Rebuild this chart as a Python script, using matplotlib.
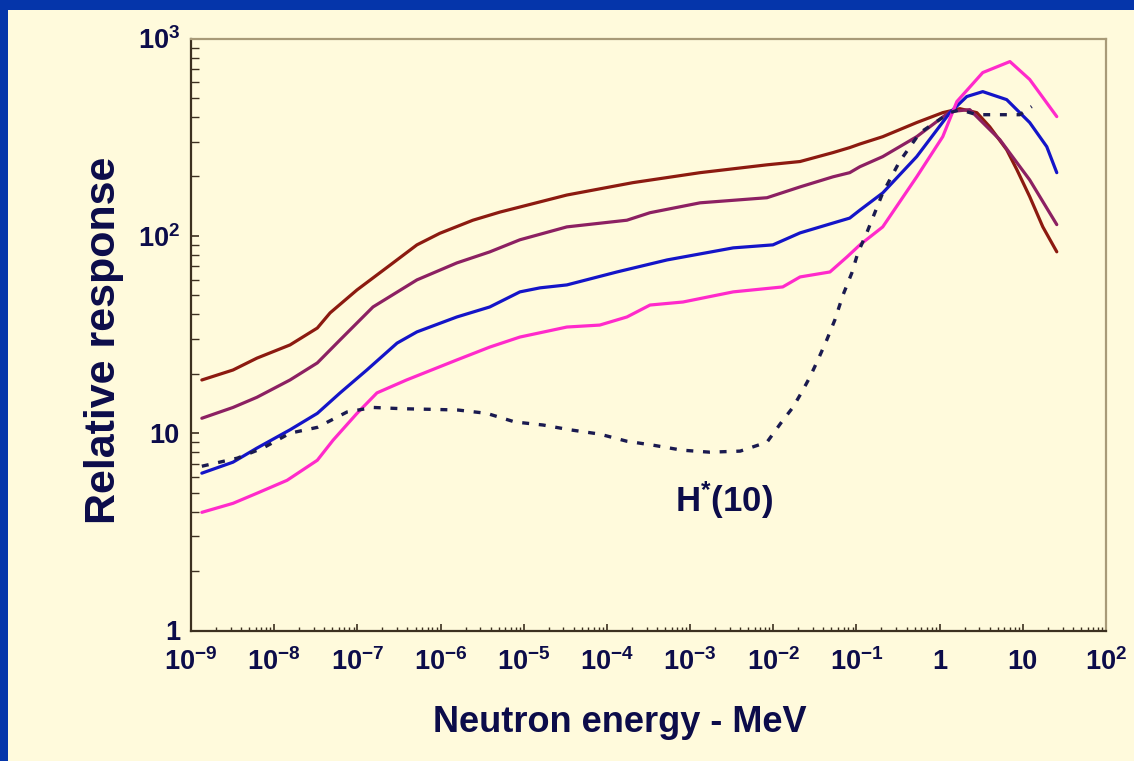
import matplotlib
matplotlib.use("Agg")
import matplotlib.pyplot as plt
from matplotlib.patches import Rectangle

plt.rcParams['font.family'] = ['Liberation Sans', 'DejaVu Sans']
plt.rcParams['mathtext.fontset'] = 'custom'
plt.rcParams['mathtext.rm'] = 'Liberation Sans:bold'
plt.rcParams['mathtext.bf'] = 'Liberation Sans:bold'
plt.rcParams['mathtext.it'] = 'Liberation Sans:bold'
plt.rcParams['lines.scale_dashes'] = False

# ---------------- data (energy in MeV, relative response) ----------------
e_darkred = [1.35e-9, 3.2e-9, 6.2e-9, 1.55e-8, 3.3e-8, 4.7e-8, 9.9e-8, 2.5e-7, 5.2e-7,
             9.8e-7, 2.45e-6, 5.2e-6, 9.0e-6, 3.3e-5, 2.05e-4, 1.32e-3, 8.4e-3, 0.021,
             0.052, 0.083, 0.11, 0.207, 0.53, 1.09, 1.75, 2.8, 4.0, 6.4, 8.5, 12.1, 17.4, 25.6]
r_darkred = [18.6, 20.9, 24.0, 28.0, 34.1, 40.7, 53.2, 71.3, 90.0,
             103, 120, 132, 140, 161, 186, 209, 229, 238,
             264, 280, 292, 318, 375, 421, 441, 421, 357, 273, 216, 158, 111, 83]

e_purple = [1.35e-9, 3.2e-9, 6.2e-9, 1.55e-8, 3.3e-8, 6.2e-8, 1.54e-7, 5.2e-7, 1.57e-6,
            3.9e-6, 9.0e-6, 3.3e-5, 1.74e-4, 3.3e-4, 1.32e-3, 8.4e-3, 0.021, 0.052,
            0.083, 0.11, 0.207, 0.53, 1.33, 2.3, 5.3, 12.1, 25.6]
r_purple = [11.9, 13.5, 15.2, 18.6, 22.7, 29.7, 43.6, 59.8, 72.9,
            82.9, 95.5, 111, 120, 131, 147, 156, 177, 199,
            209, 224, 252, 318, 426, 436, 307, 192, 114]

e_blue = [1.35e-9, 3.2e-9, 6.2e-9, 1.55e-8, 3.3e-8, 6.2e-8, 1.30e-7, 3.0e-7, 5.2e-7,
          1.57e-6, 3.9e-6, 9.0e-6, 1.57e-5, 3.3e-5, 1.32e-4, 5.3e-4, 3.3e-3, 9.9e-3,
          0.021, 0.052, 0.083, 0.11, 0.207, 0.53, 1.33, 2.12, 3.3, 6.4, 12.1, 19.4, 25.6]
r_blue = [6.27, 7.13, 8.40, 10.4, 12.6, 16.0, 20.9, 28.6, 32.6,
          38.8, 43.6, 52.0, 54.5, 56.4, 65.6, 75.5, 86.9, 90.0,
          103.5, 116, 123, 135, 165, 252, 421, 508, 538, 490, 375, 283, 209]

e_magenta = [1.35e-9, 3.2e-9, 6.2e-9, 1.43e-8, 3.3e-8, 5.1e-8, 9.9e-8, 1.72e-7, 3.9e-7,
             1.57e-6, 3.9e-6, 9.0e-6, 3.3e-5, 8.2e-5, 1.74e-4, 3.3e-4, 8.2e-4, 3.3e-3,
             0.013, 0.021, 0.048, 0.077, 0.11, 0.207, 0.53, 1.09, 1.61, 3.3, 7.0, 12.1, 25.6]
r_magenta = [3.97, 4.41, 4.96, 5.77, 7.29, 9.21, 12.6, 16.0, 18.6,
             23.5, 27.3, 30.7, 34.5, 35.3, 38.8, 44.6, 46.2, 52.0,
             55.1, 61.9, 65.6, 78.2, 90, 111, 199, 318, 479, 672, 764, 620, 402]

e_hstar = [1.35e-9, 3.6e-9, 7.3e-9, 1.55e-8, 3.3e-8, 7.5e-8, 1.54e-7, 3.5e-7, 8.1e-7,
           1.62e-6, 3.6e-6, 7.8e-6, 1.7e-5, 3.6e-5, 8.2e-5, 1.74e-4, 3.6e-4, 8.0e-4,
           1.73e-3, 4.0e-3, 8.4e-3, 0.013, 0.0172, 0.0221, 0.0275, 0.0344, 0.044, 0.055,
           0.069, 0.088, 0.104, 0.133, 0.207, 0.33, 0.58, 1.33, 1.75, 2.8, 5.3, 9.2, 12.8]
r_hstar = [6.8, 7.47, 8.40, 10.0, 10.7, 12.8, 13.5, 13.3, 13.2,
           13.1, 12.6, 11.4, 11.0, 10.4, 9.89, 9.10, 8.69, 8.20,
           8.01, 8.11, 9.00, 11.6, 13.5, 16.2, 19.2, 23.5, 29.7, 37.5,
           50.2, 64.9, 82, 103.5, 165, 238, 333, 421, 436, 411, 411, 411, 452]

x_ticks = [1e-9, 1e-8, 1e-7, 1e-6, 1e-5, 1e-4, 1e-3, 1e-2, 1e-1, 1, 10, 100]
x_ticklabels = [r'$\mathbf{10^{-9}}$', r'$\mathbf{10^{-8}}$', r'$\mathbf{10^{-7}}$',
                r'$\mathbf{10^{-6}}$', r'$\mathbf{10^{-5}}$', r'$\mathbf{10^{-4}}$',
                r'$\mathbf{10^{-3}}$', r'$\mathbf{10^{-2}}$', r'$\mathbf{10^{-1}}$',
                '1', '10', r'$\mathbf{10^{2}}$']
y_ticks = [1, 10, 100, 1000]
y_ticklabels = ['1', '10', r'$\mathbf{10^{2}}$', r'$\mathbf{10^{3}}$']

# ---------------- styling ----------------
W, H = 1134, 761
cream = '#FFFADC'
border = '#0535AA'
navy = '#0C0C4A'
spine_dark = '#3C3020'
spine_light = '#A89A78'

fig = plt.figure(figsize=(W / 100, H / 100), dpi=100)
fig.patch.set_facecolor(border)
fig.add_artist(Rectangle((8 / W, 0), 1 - 8 / W, (H - 9.5) / H, transform=fig.transFigure,
                         facecolor=cream, edgecolor='none', zorder=-10))

ax = fig.add_axes([191 / W, (H - 630.5) / H, (1106 - 191) / W, (630.5 - 38.5) / H])
ax.set_facecolor(cream)
ax.set_xscale('log')
ax.set_yscale('log')
ax.set_xlim(1e-9, 100)
ax.set_ylim(1, 1000)

lw = 2.3
ax.plot(e_darkred, r_darkred, color='#8C1A10', lw=lw, solid_capstyle='round')
ax.plot(e_purple, r_purple, color='#8C2062', lw=lw, solid_capstyle='round')
ax.plot(e_blue, r_blue, color='#1414C8', lw=lw, solid_capstyle='round')
ax.plot(e_magenta, r_magenta, color='#FF2ACB', lw=lw, solid_capstyle='round')
ax.plot(e_hstar, r_hstar, color='#1A1A50', lw=2.4, dashes=(5, 7))

ax.text(2.55e-3, 4.55, r'$\mathbf{H^{*}(10)}$', ha='center', va='center',
        fontsize=25, color=navy)

ax.set_xticks(x_ticks)
ax.set_xticklabels(x_ticklabels)
ax.set_yticks(y_ticks)
ax.set_yticklabels(y_ticklabels)
ax.xaxis.set_minor_locator(matplotlib.ticker.LogLocator(base=10, subs=range(2, 10), numticks=100))
ax.yaxis.set_minor_locator(matplotlib.ticker.LogLocator(base=10, subs=range(2, 10), numticks=100))
ax.xaxis.set_minor_formatter(matplotlib.ticker.NullFormatter())
ax.yaxis.set_minor_formatter(matplotlib.ticker.NullFormatter())

ax.tick_params(axis='x', which='major', direction='in', length=5, width=1.2, color=spine_dark,
               pad=13, labelsize=19.5, labelcolor=navy)
ax.tick_params(axis='x', which='minor', direction='in', length=3, width=1.0, color=spine_dark)
ax.tick_params(axis='y', which='major', direction='in', length=6, width=1.2, color=spine_dark,
               pad=8, labelsize=19.5, labelcolor=navy)
ax.tick_params(axis='y', which='minor', direction='in', length=6, width=1.0, color=spine_dark)
for lab in ax.get_xticklabels() + ax.get_yticklabels():
    lab.set_fontweight('bold')

for s in ['left', 'bottom']:
    ax.spines[s].set_color(spine_dark)
    ax.spines[s].set_linewidth(1.6)
for s in ['top', 'right']:
    ax.spines[s].set_color(spine_light)
    ax.spines[s].set_linewidth(1.6)

fig.text(104 / W, 1 - 340 / H, 'Relative response', rotation=90, ha='center', va='center',
         fontsize=31, fontweight='bold', color=navy)
fig.text(620 / W, 1 - 722 / H, 'Neutron energy - MeV', ha='center', va='center',
         fontsize=26, fontweight='bold', color=navy)

fig.savefig('out.png', dpi=100, facecolor=fig.get_facecolor())
